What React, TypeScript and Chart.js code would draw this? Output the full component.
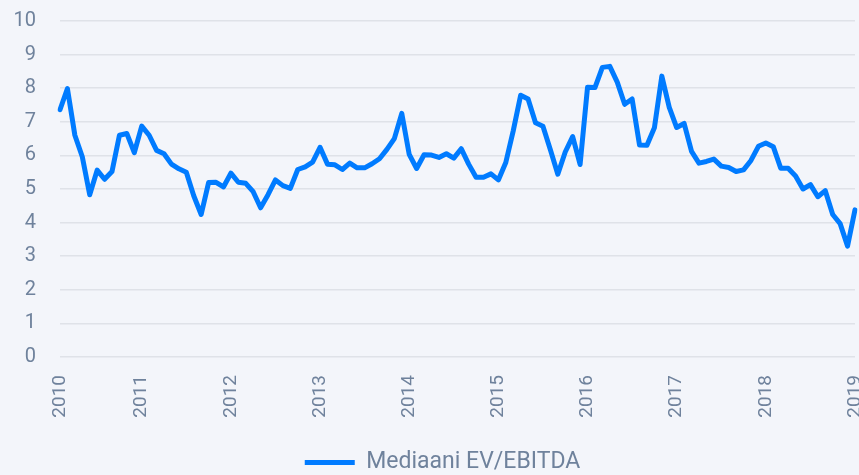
import React, { useEffect, useRef } from "react";
import { Chart, registerables } from "chart.js";

Chart.register(...registerables);

// Monthly observations, 108 points
const months: string[] = [];
for (let y = 2010; y <= 2018; y++) {
  for (let m = 1; m <= 12; m++) months.push(`${y}-${String(m).padStart(2, "0")}`);
}

const yearTicks = ["2010", "2011", "2012", "2013", "2014", "2015", "2016", "2017", "2018", "2019"];
const yearTickIndex = [0, 11, 23, 35, 47, 59, 71, 83, 95, 107];

const seriesLabel = "Mediaani EV/EBITDA";
const evEbitda = [
  7.36, 7.99, 6.6, 5.96, 4.83, 5.56, 5.29, 5.52, 6.6, 6.65, 6.08, 6.87,
  6.6, 6.15, 6.05, 5.74, 5.6, 5.5, 4.8, 4.24, 5.19, 5.2, 5.06, 5.47,
  5.2, 5.17, 4.92, 4.44, 4.83, 5.27, 5.1, 5.02, 5.58, 5.66, 5.8, 6.24,
  5.74, 5.72, 5.58, 5.77, 5.63, 5.63, 5.75, 5.9, 6.18, 6.5, 7.25, 6.03,
  5.61, 6.02, 6.01, 5.94, 6.05, 5.92, 6.2, 5.74, 5.35, 5.35, 5.45, 5.27,
  5.79, 6.73, 7.79, 7.68, 6.97, 6.87, 6.17, 5.44, 6.1, 6.56, 5.73, 8.03,
  8.02, 8.62, 8.65, 8.18, 7.52, 7.68, 6.31, 6.3, 6.82, 8.36, 7.43, 6.83,
  6.95, 6.12, 5.77, 5.82, 5.89, 5.68, 5.64, 5.52, 5.57, 5.85, 6.27, 6.37,
  6.26, 5.62, 5.62, 5.39, 5.0, 5.13, 4.77, 4.95, 4.24, 3.97, 3.3, 4.38,
];

const yMin = 0;
const yMax = 10;

const BG = "#f3f5fa";
const LINE = "#007bff";
const TEXT = "#6f829c";
const GRID = "#dfe2e8";

// nudges the legend block to where the reference draws it
const legendShift = {
  id: "legendShift",
  afterLayout(chart: any) {
    const l = chart.legend;
    if (!l) return;
    l.left += 15;
    l.right += 15;
    l.top += 9;
    l.bottom += 9;
  },
};

export default function App() {
  const ref = useRef<HTMLCanvasElement | null>(null);

  useEffect(() => {
    document.body.style.margin = "0";
    document.body.style.background = BG;
    if (!ref.current) return;
    const chart = new Chart(ref.current, {
      type: "line",
      data: {
        labels: months,
        datasets: [
          {
            label: seriesLabel,
            data: evEbitda,
            borderColor: LINE,
            backgroundColor: LINE,
            borderWidth: 5,
            borderJoinStyle: "round",
            borderCapStyle: "round",
            pointRadius: 0,
            tension: 0,
            fill: false,
          },
        ],
      },
      plugins: [legendShift],
      options: {
        animation: false,
        responsive: true,
        maintainAspectRatio: false,
        layout: { padding: { top: 21, left: 0, right: 4, bottom: 0 } },
        plugins: {
          tooltip: { enabled: false },
          legend: {
            display: true,
            position: "bottom",
            labels: {
              usePointStyle: true,
              pointStyle: "line",
              pointStyleWidth: 50,
              color: TEXT,
              font: { family: "Roboto", size: 23 },
              padding: 10,
            },
          },
        },
        scales: {
          x: {
            grid: { display: false, drawTicks: false },
            border: { display: false },
            ticks: {
              autoSkip: false,
              maxRotation: 90,
              minRotation: 90,
              padding: 18,
              color: TEXT,
              font: { family: "Roboto", size: 19 },
              callback: (_v: any, index: number) => {
                const k = yearTickIndex.indexOf(index);
                return k >= 0 ? yearTicks[k] : "";
              },
            },
            afterFit: (s: any) => {
              s.paddingLeft = 0;
              s.paddingRight = 0;
              s.height = 75;
            },
          },
          y: {
            min: yMin,
            max: yMax,
            grid: { color: GRID, lineWidth: 1.5, drawTicks: false },
            border: { display: false },
            ticks: {
              stepSize: 1,
              padding: 24,
              color: TEXT,
              font: { family: "Roboto", size: 20 },
            },
            afterFit: (s: any) => {
              s.width = 60;
              s.paddingTop = 0;
              s.paddingBottom = 0;
            },
          },
        },
      },
    });
    return () => chart.destroy();
  }, []);

  return (
    <div style={{ width: 859, height: 475, background: BG, position: "relative" }}>
      <canvas ref={ref} />
    </div>
  );
}
